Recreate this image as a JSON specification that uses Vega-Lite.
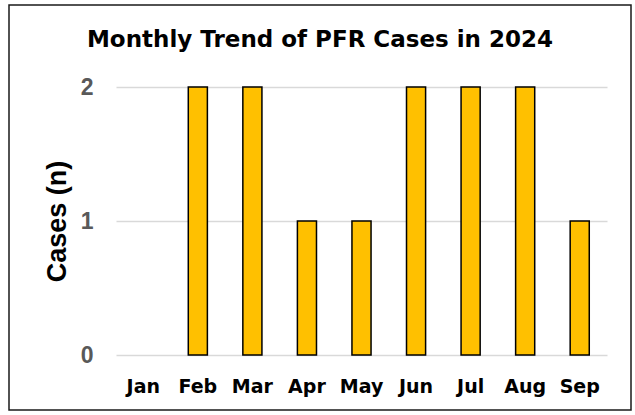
{
  "$schema": "https://vega.github.io/schema/vega-lite/v6.json",
  "width": 622,
  "height": 405,
  "autosize": {"type": "none"},
  "padding": {"left": 9, "top": 5, "right": 4, "bottom": 5},
  "background": "white",
  "config": {
    "view": {"stroke": "#1a1a1a", "strokeWidth": 1.5},
    "axis": {"domain": false, "ticks": false}
  },
  "title": {
    "text": "Monthly Trend of PFR Cases in 2024",
    "font": "DejaVu Sans",
    "fontSize": 23,
    "fontWeight": "bold",
    "color": "black",
    "anchor": "middle",
    "baseline": "alphabetic",
    "offset": -65
  },
  "data": {
    "values": [
      {"month": "Jan", "cases": 0},
      {"month": "Feb", "cases": 2},
      {"month": "Mar", "cases": 2},
      {"month": "Apr", "cases": 1},
      {"month": "May", "cases": 1},
      {"month": "Jun", "cases": 2},
      {"month": "Jul", "cases": 2},
      {"month": "Aug", "cases": 2},
      {"month": "Sep", "cases": 1}
    ]
  },
  "transform": [{"filter": "datum.cases > 0"}],
  "mark": {"type": "bar", "fill": "#FFC000", "stroke": "black", "strokeWidth": 1.5},
  "encoding": {
    "x": {
      "field": "month",
      "type": "nominal",
      "sort": null,
      "scale": {
        "domain": ["Jan", "Feb", "Mar", "Apr", "May", "Jun", "Jul", "Aug", "Sep"],
        "range": [107, 598],
        "paddingInner": 0.65,
        "paddingOuter": 0.325
      },
      "axis": {
        "title": null,
        "orient": "bottom",
        "offset": -55,
        "labelPadding": 22,
        "labelAngle": 0,
        "labelFont": "DejaVu Sans",
        "labelFontSize": 19,
        "labelFontWeight": "bold",
        "labelColor": "black",
        "grid": false
      }
    },
    "y": {
      "field": "cases",
      "type": "quantitative",
      "scale": {"domain": [0, 2], "range": [350, 82], "nice": false},
      "axis": {
        "title": "Cases (n)",
        "values": [0, 1, 2],
        "format": ".0f",
        "offset": -107,
        "labelPadding": 23,
        "labelOverlap": false,
        "labelFont": "Liberation Sans",
        "labelFontSize": 23,
        "labelFontWeight": "bold",
        "labelColor": "#595959",
        "grid": true,
        "gridColor": "#d9d9d9",
        "gridWidth": 1.5,
        "titleFont": "Liberation Sans",
        "titleFontSize": 27,
        "titleFontWeight": "bold",
        "titleColor": "black",
        "titleX": -59,
        "titleY": 216,
        "titleAngle": 270,
        "titleAlign": "center",
        "titleBaseline": "middle"
      }
    }
  }
}
